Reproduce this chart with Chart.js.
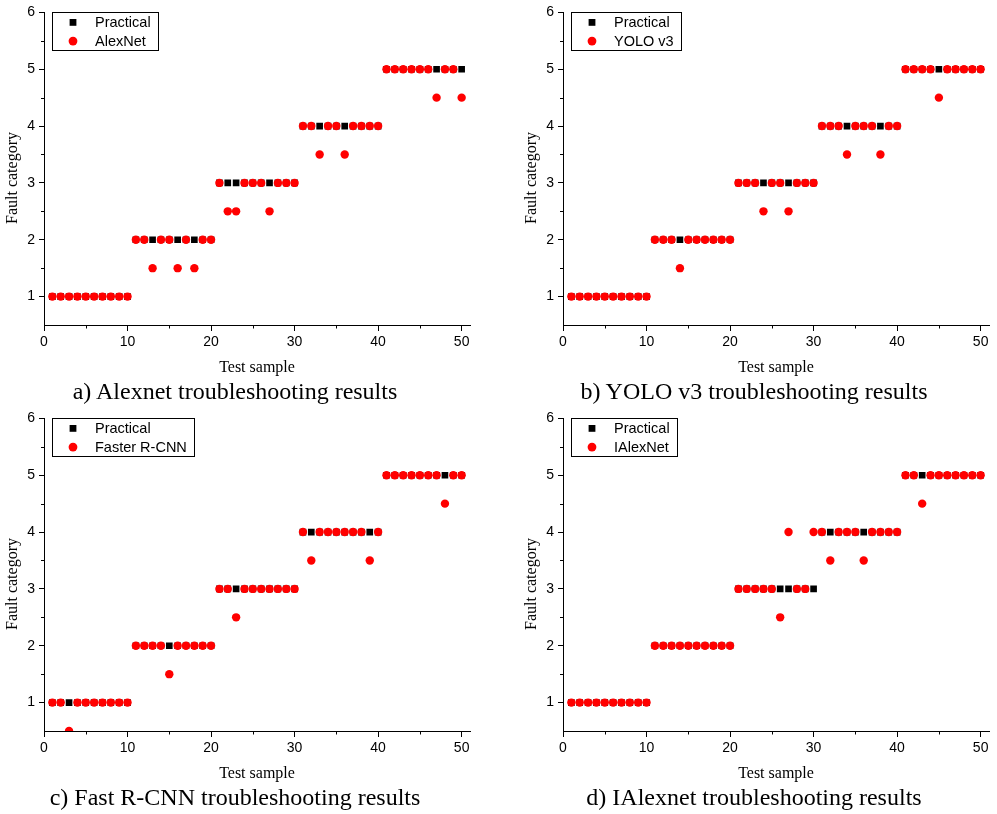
<!DOCTYPE html>
<html>
<head>
<meta charset="utf-8">
<title>Troubleshooting results</title>
<script src="https://cdn.jsdelivr.net/npm/chart.js@4.4.0/dist/chart.umd.min.js"></script>
<style>
  body { margin: 0; background: #fff; }
  #page { position: relative; width: 997px; height: 814px; overflow: hidden; }
  .panel { position: absolute; width: 497px; height: 408px; }
  .panel canvas { position: absolute; left: 0; top: 0; }
  .ytitle {
    position: absolute; left: 12px; top: 178px;
    font: 16px "Liberation Serif", "Times New Roman", serif; color: #000;
    transform: translate(-50%, -50%) rotate(-90deg); white-space: nowrap;
  }
  .caption {
    position: absolute; left: 0; width: 470px; top: 376px; text-align: center;
    font: 24px "Liberation Serif", "Times New Roman", serif; line-height: 30px; color: #000;
    white-space: nowrap;
  }
</style>
</head>
<body>
<div id="page">
  <div class="panel" style="left:0;top:0">
    <canvas id="chartA" width="497" height="380"></canvas>
    <div class="ytitle">Fault category</div>
    <div class="caption">a) Alexnet troubleshooting results</div>
  </div>
  <div class="panel" style="left:519px;top:0">
    <canvas id="chartB" width="497" height="380"></canvas>
    <div class="ytitle">Fault category</div>
    <div class="caption">b) YOLO v3 troubleshooting results</div>
  </div>
  <div class="panel" style="left:0;top:406px">
    <canvas id="chartC" width="497" height="380"></canvas>
    <div class="ytitle">Fault category</div>
    <div class="caption">c) Fast R-CNN troubleshooting results</div>
  </div>
  <div class="panel" style="left:519px;top:406px">
    <canvas id="chartD" width="497" height="380"></canvas>
    <div class="ytitle">Fault category</div>
    <div class="caption">d) IAlexnet troubleshooting results</div>
  </div>
</div>
<script>
// test samples on the x axis
var samples = [1, 2, 3, 4, 5, 6, 7, 8, 9, 10,
  11, 12, 13, 14, 15, 16, 17, 18, 19, 20,
  21, 22, 23, 24, 25, 26, 27, 28, 29, 30,
  31, 32, 33, 34, 35, 36, 37, 38, 39, 40,
  41, 42, 43, 44, 45, 46, 47, 48, 49, 50];

// actual fault category of each sample
var practical = [1, 1, 1, 1, 1, 1, 1, 1, 1, 1,
  2, 2, 2, 2, 2, 2, 2, 2, 2, 2,
  3, 3, 3, 3, 3, 3, 3, 3, 3, 3,
  4, 4, 4, 4, 4, 4, 4, 4, 4, 4,
  5, 5, 5, 5, 5, 5, 5, 5, 5, 5];

// predictions of each network (x.5 = wrongly classified)
var alexnet = [1, 1, 1, 1, 1, 1, 1, 1, 1, 1,
  2, 2, 1.5, 2, 2, 1.5, 2, 1.5, 2, 2,
  3, 2.5, 2.5, 3, 3, 3, 2.5, 3, 3, 3,
  4, 4, 3.5, 4, 4, 3.5, 4, 4, 4, 4,
  5, 5, 5, 5, 5, 5, 4.5, 5, 5, 4.5];

var yolo = [1, 1, 1, 1, 1, 1, 1, 1, 1, 1,
  2, 2, 2, 1.5, 2, 2, 2, 2, 2, 2,
  3, 3, 3, 2.5, 3, 3, 2.5, 3, 3, 3,
  4, 4, 4, 3.5, 4, 4, 4, 3.5, 4, 4,
  5, 5, 5, 5, 4.5, 5, 5, 5, 5, 5];

var fasterRcnn = [1, 1, 0.5, 1, 1, 1, 1, 1, 1, 1,
  2, 2, 2, 2, 1.5, 2, 2, 2, 2, 2,
  3, 3, 2.5, 3, 3, 3, 3, 3, 3, 3,
  4, 3.5, 4, 4, 4, 4, 4, 4, 3.5, 4,
  5, 5, 5, 5, 5, 5, 5, 4.5, 5, 5];

var ialexnet = [1, 1, 1, 1, 1, 1, 1, 1, 1, 1,
  2, 2, 2, 2, 2, 2, 2, 2, 2, 2,
  3, 3, 3, 3, 3, 2.5, 4, 3, 3, 4,
  4, 3.5, 4, 4, 4, 3.5, 4, 4, 4, 4,
  5, 5, 4.5, 5, 5, 5, 5, 5, 5, 5];

// axis ticks
var xTicks = [0, 10, 20, 30, 40, 50];
var xMinor = [5, 15, 25, 35, 45];
var yTicks = [1, 2, 3, 4, 5, 6];
var yMinor = [1.5, 2.5, 3.5, 4.5, 5.5];

var sans = '"Liberation Sans", Arial, sans-serif';
var serif = '"Liberation Serif", "Times New Roman", serif';

function toPoints(values) {
  var pts = [];
  for (var i = 0; i < samples.length; i++) {
    pts.push({ x: samples[i], y: values[i] });
  }
  return pts;
}

// short minor tick marks on both axes
var minorTicks = {
  id: 'minorTicks',
  afterDraw: function (chart) {
    var ctx = chart.ctx;
    var area = chart.chartArea;
    var xs = chart.scales.x;
    var ys = chart.scales.y;
    ctx.save();
    ctx.strokeStyle = '#000';
    ctx.lineWidth = 1;
    ctx.beginPath();
    xMinor.forEach(function (v) {
      var px = Math.round(xs.getPixelForValue(v)) + 0.5;
      ctx.moveTo(px, area.bottom);
      ctx.lineTo(px, area.bottom + 3.5);
    });
    yMinor.forEach(function (v) {
      var py = Math.round(ys.getPixelForValue(v)) + 0.5;
      ctx.moveTo(area.left, py);
      ctx.lineTo(area.left - 3, py);
    });
    ctx.stroke();
    ctx.restore();
  }
};

// framed legend in the top left corner of the plot (Origin style)
var boxLegend = {
  id: 'boxLegend',
  afterDraw: function (chart) {
    var ctx = chart.ctx;
    var area = chart.chartArea;
    var sets = chart.data.datasets;
    var left = area.left + 8;
    var top = area.top;
    var rowH = 18.7;
    ctx.save();
    ctx.font = '14.5px ' + sans;
    ctx.textBaseline = 'middle';
    ctx.fillStyle = '#000';
    var widest = 0;
    sets.forEach(function (ds) { widest = Math.max(widest, ctx.measureText(ds.label).width); });
    var textX = area.left + 51;
    var boxW = textX + widest + 7 - left;
    var boxH = 10 + rowH * (sets.length - 1) + 9;
    ctx.strokeStyle = '#000';
    ctx.lineWidth = 1;
    ctx.strokeRect(Math.round(left) + 0.5, Math.round(top) + 0.5, Math.round(boxW), Math.round(boxH));
    sets.forEach(function (ds, i) {
      var cy = top + 10 + rowH * i;
      var cx = area.left + 29;
      ctx.fillStyle = ds.backgroundColor;
      ctx.beginPath();
      if (ds.pointStyle === 'rect') {
        ctx.rect(cx - 3.4, cy - 3.4, 6.8, 6.8);
      } else {
        ctx.arc(cx, cy, 4.4, 0, Math.PI * 2);
      }
      ctx.fill();
      ctx.fillStyle = '#000';
      ctx.fillText(ds.label, textX, cy + 0.5);
    });
    ctx.restore();
  }
};

function makeChart(id, name, values) {
  var ctx = document.getElementById(id).getContext('2d');
  return new Chart(ctx, {
    type: 'scatter',
    data: {
      datasets: [
        {
          label: 'Practical',
          data: toPoints(practical),
          pointStyle: 'rect',
          pointRadius: 4.7,
          pointBorderWidth: 0,
          backgroundColor: '#000000',
          borderColor: '#000000',
          order: 1
        },
        {
          label: name,
          data: toPoints(values),
          pointStyle: 'circle',
          pointRadius: 4.2,
          pointBorderWidth: 0,
          backgroundColor: '#ff0000',
          borderColor: '#ff0000',
          order: 0
        }
      ]
    },
    options: {
      responsive: false,
      animation: false,
      devicePixelRatio: 1,
      events: [],
      layout: { padding: { left: 0, top: 9, right: 27, bottom: 0 } },
      plugins: {
        tooltip: { enabled: false },
        legend: { display: false }
      },
      scales: {
        x: {
          type: 'linear',
          min: 0,
          max: 51,
          afterBuildTicks: function (s) { s.ticks = xTicks.map(function (v) { return { value: v }; }); },
          afterFit: function (s) { s.height = 55; },
          grid: { drawOnChartArea: false, tickLength: 6, tickColor: '#000', tickWidth: 1 },
          border: { color: '#000', width: 1 },
          ticks: { color: '#000', font: { family: sans, size: 14 }, padding: 3, maxRotation: 0, autoSkip: false },
          title: { display: true, text: 'Test sample', color: '#000', font: { family: serif, size: 16 }, padding: { top: 0, bottom: 3 } }
        },
        y: {
          type: 'linear',
          min: 0.5,
          max: 6,
          afterBuildTicks: function (s) { s.ticks = yTicks.map(function (v) { return { value: v }; }); },
          afterFit: function (s) { s.width = 44; },
          grid: { drawOnChartArea: false, tickLength: 5, tickColor: '#000', tickWidth: 1 },
          border: { color: '#000', width: 1 },
          ticks: { color: '#000', font: { family: sans, size: 14 }, padding: 4 }
        }
      }
    },
    plugins: [minorTicks, boxLegend]
  });
}

makeChart('chartA', 'AlexNet', alexnet);
makeChart('chartB', 'YOLO v3', yolo);
makeChart('chartC', 'Faster R-CNN', fasterRcnn);
makeChart('chartD', 'IAlexNet', ialexnet);
</script>
</body>
</html>
